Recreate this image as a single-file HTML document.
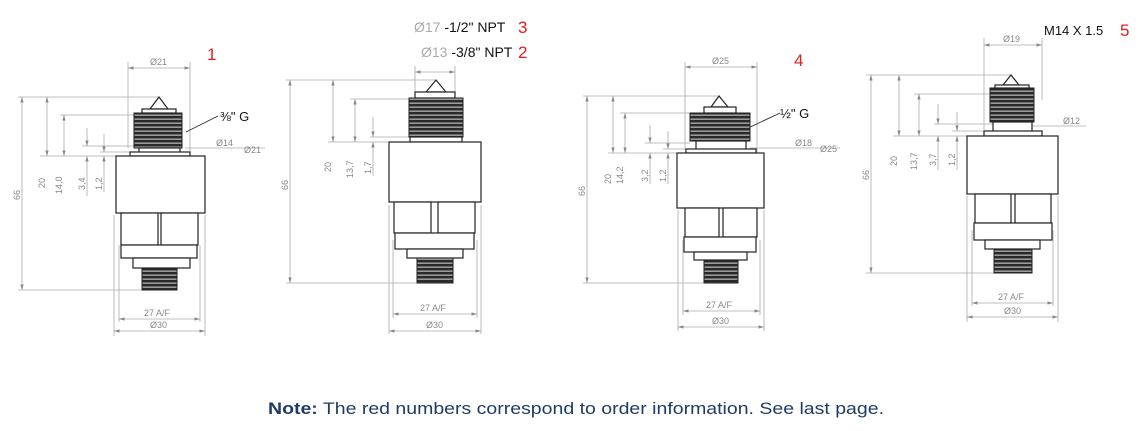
<!DOCTYPE html>
<html><head><meta charset="utf-8"><style>
html,body{margin:0;padding:0;background:#fff;width:1147px;height:431px;overflow:hidden}
svg{display:block}
.p{fill:#fff;stroke:#222;stroke-width:1.2}
.d{stroke:#aaa;stroke-width:0.8;fill:none}
.dt{font-family:"Liberation Sans",sans-serif;font-size:9px;fill:#888}
.r{font-family:"Liberation Sans",sans-serif;font-size:17px;fill:#e02020}
.k{font-family:"Liberation Sans",sans-serif;font-size:13px;fill:#111}
</style></head><body>
<svg width="1147" height="431" viewBox="0 0 1147 431" xmlns="http://www.w3.org/2000/svg">
<defs>
<pattern id="th" width="6" height="4" patternUnits="userSpaceOnUse"><rect width="6" height="4" fill="#999"/><rect width="6" height="2.4" fill="#2a2a2a"/></pattern>
<marker id="a" viewBox="0 0 10 10" refX="10" refY="5" markerWidth="7" markerHeight="7" orient="auto-start-reverse"><path d="M0,2 L10,5 L0,8z" fill="#888"/></marker>
</defs>

<!-- ===== Device 1 ===== -->
<g>
<line class="d" x1="128" y1="62" x2="128" y2="148"/><line class="d" x1="190" y1="62" x2="190" y2="160"/>
<line class="d" x1="128" y1="68" x2="190" y2="68" marker-start="url(#a)" marker-end="url(#a)"/>
<text class="dt" x="150" y="65">Ø21</text>
<line class="d" x1="18" y1="97" x2="158" y2="97"/><line class="d" x1="60" y1="115" x2="135" y2="115"/>
<line class="d" x1="40" y1="156" x2="116" y2="156"/><line class="d" x1="18" y1="290" x2="142" y2="290"/>
<line class="d" x1="82" y1="146" x2="135" y2="146"/><line class="d" x1="100" y1="152" x2="135" y2="152"/>
<line class="d" x1="22" y1="97" x2="22" y2="290" marker-start="url(#a)" marker-end="url(#a)"/>
<line class="d" x1="47" y1="97" x2="47" y2="156" marker-start="url(#a)" marker-end="url(#a)"/>
<line class="d" x1="64" y1="115" x2="64" y2="156" marker-start="url(#a)" marker-end="url(#a)"/>
<line class="d" x1="87" y1="128" x2="87" y2="146" marker-end="url(#a)"/><line class="d" x1="87" y1="196" x2="87" y2="156" marker-end="url(#a)"/>
<line class="d" x1="104" y1="134" x2="104" y2="152" marker-end="url(#a)"/><line class="d" x1="104" y1="192" x2="104" y2="156" marker-end="url(#a)"/>
<text class="dt" transform="translate(20,200) rotate(-90)">66</text>
<text class="dt" transform="translate(45,188) rotate(-90)">20</text>
<text class="dt" transform="translate(62,194) rotate(-90)">14,0</text>
<text class="dt" transform="translate(85,190) rotate(-90)">3,4</text>
<text class="dt" transform="translate(102,190) rotate(-90)">1,2</text>
<line class="d" x1="185" y1="148" x2="265" y2="148"/><text class="dt" x="216" y="146">Ø14</text><text class="dt" x="244" y="153">Ø21</text>
<line x1="186" y1="132" x2="218" y2="116" stroke="#222" stroke-width="0.8"/>
<text class="k" x="220" y="121" font-size="11">⅜" G</text>
<path class="p" d="M150,109 L159,97 L168,109z"/>
<rect class="p" x="142" y="109" width="34" height="4"/>
<rect x="134" y="113" width="48" height="35" fill="url(#th)" stroke="#222"/>
<rect class="p" x="139" y="148" width="41" height="5"/><rect class="p" x="130" y="152" width="60" height="4"/>
<rect class="p" x="116" y="156" width="89" height="57"/>
<rect class="p" x="121" y="213" width="37" height="32"/><rect class="p" x="161" y="213" width="37" height="32"/>
<rect class="p" x="121" y="245" width="76" height="13"/>
<rect class="p" x="133" y="258" width="57" height="10"/>
<rect x="142" y="268" width="35" height="22" fill="url(#th)" stroke="#222"/>
<line class="d" x1="114" y1="215" x2="114" y2="336"/><line class="d" x1="205" y1="215" x2="205" y2="336"/>
<line class="d" x1="119" y1="245" x2="119" y2="322"/><line class="d" x1="200" y1="245" x2="200" y2="322"/>
<line class="d" x1="119" y1="319" x2="200" y2="319" marker-start="url(#a)" marker-end="url(#a)"/><text class="dt" x="144" y="316">27 A/F</text>
<line class="d" x1="114" y1="331" x2="205" y2="331" marker-start="url(#a)" marker-end="url(#a)"/><text class="dt" x="150" y="328">Ø30</text>
<text class="r" x="207" y="60">1</text>
</g>

<!-- ===== Device 2 ===== -->
<g>
<text x="414" y="32" font-family="Liberation Sans,sans-serif" font-size="14"><tspan fill="#aaa">Ø17</tspan><tspan fill="#111"> -1/2" NPT</tspan></text>
<text class="r" x="518" y="33">3</text>
<text x="421" y="57" font-family="Liberation Sans,sans-serif" font-size="14"><tspan fill="#aaa">Ø13</tspan><tspan fill="#111"> -3/8" NPT</tspan></text>
<text class="r" x="518" y="58">2</text>
<line class="d" x1="415" y1="66" x2="415" y2="95"/><line class="d" x1="455" y1="66" x2="455" y2="95"/>
<line class="d" x1="415" y1="72" x2="455" y2="72" marker-start="url(#a)" marker-end="url(#a)"/>
<line class="d" x1="286" y1="80" x2="435" y2="80"/><line class="d" x1="350" y1="99" x2="410" y2="99"/>
<line class="d" x1="328" y1="142" x2="389" y2="142"/><line class="d" x1="370" y1="137" x2="410" y2="137"/>
<line class="d" x1="286" y1="283" x2="417" y2="283"/>
<line class="d" x1="290" y1="80" x2="290" y2="283" marker-start="url(#a)" marker-end="url(#a)"/>
<line class="d" x1="333" y1="80" x2="333" y2="142" marker-start="url(#a)" marker-end="url(#a)"/>
<line class="d" x1="355" y1="99" x2="355" y2="142" marker-start="url(#a)" marker-end="url(#a)"/>
<line class="d" x1="373" y1="117" x2="373" y2="137" marker-end="url(#a)"/><line class="d" x1="373" y1="176" x2="373" y2="142" marker-end="url(#a)"/>
<text class="dt" transform="translate(288,190) rotate(-90)">66</text>
<text class="dt" transform="translate(331,172) rotate(-90)">20</text>
<text class="dt" transform="translate(353,178) rotate(-90)">13,7</text>
<text class="dt" transform="translate(371,174) rotate(-90)">1,7</text>
<path class="p" d="M426,92 L436,80 L446,92z"/>
<rect class="p" x="415" y="92" width="40" height="6"/>
<rect x="409" y="98" width="54" height="39" fill="url(#th)" stroke="#222"/>
<rect class="p" x="410" y="137" width="52" height="5"/>
<rect class="p" x="389" y="142" width="92" height="60"/>
<rect class="p" x="394" y="202" width="37" height="31"/><rect class="p" x="438" y="202" width="37" height="31"/>
<rect class="p" x="395" y="233" width="79" height="16"/>
<rect class="p" x="407" y="249" width="56" height="9"/>
<rect x="417" y="258" width="36" height="25" fill="url(#th)" stroke="#222"/>
<line class="d" x1="389" y1="205" x2="389" y2="334"/><line class="d" x1="481" y1="205" x2="481" y2="334"/>
<line class="d" x1="393" y1="240" x2="393" y2="318"/><line class="d" x1="477" y1="240" x2="477" y2="318"/>
<line class="d" x1="393" y1="314" x2="477" y2="314" marker-start="url(#a)" marker-end="url(#a)"/><text class="dt" x="420" y="311">27 A/F</text>
<line class="d" x1="389" y1="331" x2="481" y2="331" marker-start="url(#a)" marker-end="url(#a)"/><text class="dt" x="426" y="328">Ø30</text>
</g>

<!-- ===== Device 3 (4) ===== -->
<g>
<line class="d" x1="685" y1="62" x2="685" y2="150"/><line class="d" x1="757" y1="62" x2="757" y2="155"/>
<line class="d" x1="685" y1="67" x2="757" y2="67" marker-start="url(#a)" marker-end="url(#a)"/>
<text class="dt" x="712" y="64">Ø25</text>
<line class="d" x1="583" y1="96" x2="718" y2="96"/><line class="d" x1="620" y1="113" x2="690" y2="113"/>
<line class="d" x1="608" y1="153" x2="677" y2="153"/><line class="d" x1="583" y1="283" x2="704" y2="283"/>
<line class="d" x1="645" y1="143" x2="690" y2="143"/><line class="d" x1="663" y1="149" x2="690" y2="149"/>
<line class="d" x1="587" y1="96" x2="587" y2="283" marker-start="url(#a)" marker-end="url(#a)"/>
<line class="d" x1="613" y1="96" x2="613" y2="153" marker-start="url(#a)" marker-end="url(#a)"/>
<line class="d" x1="625" y1="113" x2="625" y2="153" marker-start="url(#a)" marker-end="url(#a)"/>
<line class="d" x1="650" y1="125" x2="650" y2="143" marker-end="url(#a)"/><line class="d" x1="650" y1="184" x2="650" y2="153" marker-end="url(#a)"/>
<line class="d" x1="668" y1="131" x2="668" y2="149" marker-end="url(#a)"/><line class="d" x1="668" y1="184" x2="668" y2="153" marker-end="url(#a)"/>
<text class="dt" transform="translate(585,196) rotate(-90)">66</text>
<text class="dt" transform="translate(611,184) rotate(-90)">20</text>
<text class="dt" transform="translate(623,184) rotate(-90)">14,2</text>
<text class="dt" transform="translate(648,182) rotate(-90)">3,2</text>
<text class="dt" transform="translate(666,182) rotate(-90)">1,2</text>
<line class="d" x1="750" y1="148" x2="840" y2="148"/><text class="dt" x="795" y="146">Ø18</text><text class="dt" x="820" y="152">Ø25</text>
<line x1="744" y1="130" x2="780" y2="113" stroke="#222" stroke-width="0.8"/>
<text class="k" x="780" y="118" font-size="11">½" G</text>
<path class="p" d="M711,107 L719,96 L728,107z"/>
<rect class="p" x="704" y="107" width="32" height="6"/>
<rect x="690" y="113" width="60" height="28" fill="url(#th)" stroke="#222"/>
<rect class="p" x="696" y="141" width="50" height="9"/><rect class="p" x="686" y="149" width="70" height="4"/>
<rect class="p" x="677" y="153" width="87" height="55"/>
<rect class="p" x="685" y="208" width="34" height="29"/><rect class="p" x="723" y="208" width="34" height="29"/>
<rect class="p" x="684" y="237" width="72" height="15"/>
<rect class="p" x="694" y="252" width="53" height="8"/>
<rect x="704" y="260" width="34" height="23" fill="url(#th)" stroke="#222"/>
<line class="d" x1="678" y1="210" x2="678" y2="331"/><line class="d" x1="764" y1="210" x2="764" y2="331"/>
<line class="d" x1="683" y1="240" x2="683" y2="315"/><line class="d" x1="760" y1="240" x2="760" y2="315"/>
<line class="d" x1="683" y1="311" x2="760" y2="311" marker-start="url(#a)" marker-end="url(#a)"/><text class="dt" x="706" y="308">27 A/F</text>
<line class="d" x1="678" y1="327" x2="764" y2="327" marker-start="url(#a)" marker-end="url(#a)"/><text class="dt" x="712" y="324">Ø30</text>
<text class="r" x="794" y="66">4</text>
</g>

<!-- ===== Device 4 (5) ===== -->
<g>
<text class="k" x="1044" y="35">M14 X 1.5</text><text class="r" x="1120" y="36">5</text>
<line class="d" x1="984" y1="38" x2="984" y2="130"/><line class="d" x1="1042" y1="38" x2="1042" y2="100"/>
<line class="d" x1="984" y1="45" x2="1042" y2="45" marker-start="url(#a)" marker-end="url(#a)"/>
<text class="dt" x="1003" y="42">Ø19</text>
<line class="d" x1="866" y1="75" x2="1010" y2="75"/><line class="d" x1="914" y1="94" x2="990" y2="94"/>
<line class="d" x1="893" y1="136" x2="967" y2="136"/><line class="d" x1="866" y1="273" x2="994" y2="273"/>
<line class="d" x1="934" y1="124" x2="993" y2="124"/><line class="d" x1="952" y1="131" x2="993" y2="131"/>
<line class="d" x1="1032" y1="126" x2="1086" y2="126"/><text class="dt" x="1063" y="124">Ø12</text>
<line class="d" x1="871" y1="75" x2="871" y2="273" marker-start="url(#a)" marker-end="url(#a)"/>
<line class="d" x1="899" y1="75" x2="899" y2="136" marker-start="url(#a)" marker-end="url(#a)"/>
<line class="d" x1="919" y1="94" x2="919" y2="136" marker-start="url(#a)" marker-end="url(#a)"/>
<line class="d" x1="938" y1="104" x2="938" y2="124" marker-end="url(#a)"/><line class="d" x1="938" y1="170" x2="938" y2="136" marker-end="url(#a)"/>
<line class="d" x1="957" y1="112" x2="957" y2="131" marker-end="url(#a)"/><line class="d" x1="957" y1="170" x2="957" y2="136" marker-end="url(#a)"/>
<text class="dt" transform="translate(869,180) rotate(-90)">66</text>
<text class="dt" transform="translate(897,166) rotate(-90)">20</text>
<text class="dt" transform="translate(917,170) rotate(-90)">13,7</text>
<text class="dt" transform="translate(936,166) rotate(-90)">3,7</text>
<text class="dt" transform="translate(955,166) rotate(-90)">1,2</text>
<path class="p" d="M1003,85 L1011,75 L1019,85z"/>
<rect class="p" x="995" y="85" width="34" height="3"/>
<rect x="990" y="88" width="44" height="34" fill="url(#th)" stroke="#222"/>
<rect class="p" x="993" y="122" width="39" height="10"/><rect class="p" x="984" y="131" width="58" height="5"/>
<rect class="p" x="967" y="136" width="91" height="58"/>
<rect class="p" x="975" y="194" width="36" height="29"/><rect class="p" x="1015" y="194" width="36" height="29"/>
<rect class="p" x="974" y="223" width="78" height="17"/>
<rect class="p" x="985" y="240" width="55" height="9"/>
<rect x="994" y="249" width="38" height="24" fill="url(#th)" stroke="#222"/>
<line class="d" x1="967" y1="196" x2="967" y2="322"/><line class="d" x1="1058" y1="196" x2="1058" y2="322"/>
<line class="d" x1="972" y1="230" x2="972" y2="306"/><line class="d" x1="1053" y1="230" x2="1053" y2="306"/>
<line class="d" x1="972" y1="303" x2="1053" y2="303" marker-start="url(#a)" marker-end="url(#a)"/><text class="dt" x="998" y="300">27 A/F</text>
<line class="d" x1="967" y1="317" x2="1058" y2="317" marker-start="url(#a)" marker-end="url(#a)"/><text class="dt" x="1004" y="314">Ø30</text>
</g>

<text x="268" y="414" font-family="Liberation Sans,sans-serif" font-size="17" fill="#1f3a63" textLength="616" lengthAdjust="spacingAndGlyphs"><tspan font-weight="bold">Note:</tspan> The red numbers correspond to order information. See last page.</text>
</svg>
</body></html>
